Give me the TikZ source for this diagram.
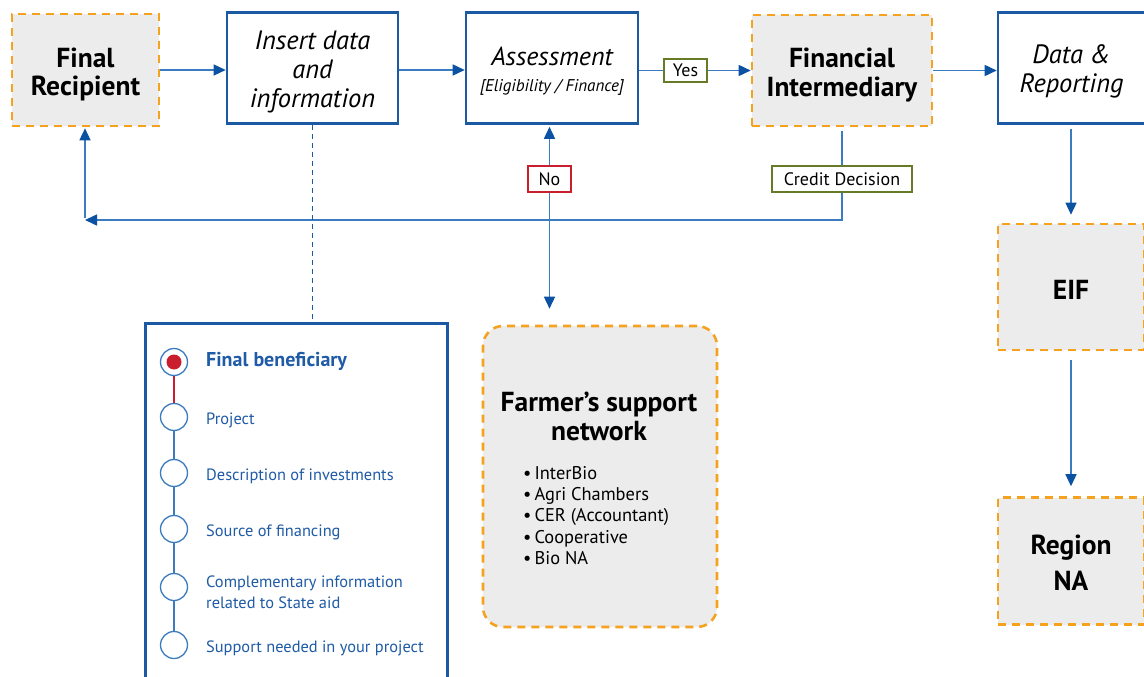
\documentclass[tikz,border=0pt]{standalone}
\usepackage{fontspec}
\setmainfont{PT Sans}
\usetikzlibrary{arrows.meta}
\definecolor{bord}{HTML}{1C59A5}
\definecolor{lnc}{HTML}{3B7BC0}
\definecolor{arrc}{HTML}{0B53A2}
\definecolor{orng}{HTML}{F5A21E}
\definecolor{grayf}{HTML}{ECECEC}
\definecolor{olive}{HTML}{667A27}
\definecolor{redc}{HTML}{C81E2E}
\definecolor{txtb}{HTML}{1F5BA6}
\tikzset{
  graybox/.style={draw=orng, fill=grayf, line width=2.6pt, dash pattern=on 8pt off 6pt, minimum width=146pt, inner sep=0pt},
  bluebox/.style={draw=bord, fill=white, line width=2.6pt, inner sep=0pt, minimum width=172pt, minimum height=111pt},
  lbl/.style={draw=#1, fill=white, line width=1.6pt, inner sep=0pt, font=\fontsize{18}{20}\selectfont},
  ln/.style={draw=lnc, line width=1.5pt},
  arr/.style={draw=lnc, line width=1.5pt, -{Triangle[length=12pt,width=11pt,color=arrc]}},
  circ/.style={circle, draw=lnc, line width=1.3pt, fill=white, minimum size=27pt, inner sep=0pt},
  item/.style={anchor=west, text=txtb, inner sep=0pt, align=left, font=\fontsize{16.4}{21}\selectfont},
  bigb/.style={align=center, inner sep=0pt, font=\bfseries\fontsize{27.5}{28.5}\selectfont},
  bigi/.style={align=center, inner sep=0pt, font=\itshape\fontsize{26.5}{29}\selectfont},
}
\begin{document}
\begin{tikzpicture}[x=1pt,y=-1pt]
\useasboundingbox (0,0) rectangle (1144,677);
\clip (0,0) rectangle (1144,677);
% top row
\node[graybox, minimum width=147pt, minimum height=112pt] (fr) at (85.5,70) {};
\node[bigb] (frt) at (85.5,74.5) {Final\\Recipient};
\node[bluebox, minimum width=171pt] (ins) at (312.5,68) {};
\node[bigi] (inst) at (312.5,72) {Insert data\\and\\information};
\node[bluebox] (ass) at (552,68) {};
\node[bigi, font=\itshape\fontsize{26}{29}\selectfont] (asst) at (552,56) {Assessment};
\node[font=\itshape\fontsize{17}{20}\selectfont, inner sep=0pt] (asss) at (552,87) {[Eligibility / Finance]};
\node[graybox, minimum width=180pt, minimum height=111pt] (fi) at (842,70.5) {};
\node[bigb] (fit) at (842,75) {Financial\\Intermediary};
\node[bluebox, minimum width=148pt] (data) at (1072,68) {};
\node[bigi] (datat) at (1071.5,71.5) {Data \&\\Reporting};
\node[graybox, minimum height=126pt] (eif) at (1071,287) {};
\node[bigb] (eift) at (1071,290) {EIF};
\node[graybox, minimum height=127pt] (reg) at (1071,561) {};
\node[bigb, font=\bfseries\fontsize{27.5}{36}\selectfont] (regt) at (1071,563) {Region\\NA};
% labels
\node[lbl=olive, minimum width=43pt, minimum height=23pt] (yes) at (685.5,70.5) {Yes};
\node[lbl=redc, minimum width=43pt, minimum height=26pt] (no) at (549.5,179) {No};
\node[lbl=olive, minimum width=140pt, minimum height=26pt] (cred) at (842,179) {Credit Decision};
% farmer box
\node[draw=orng, fill=grayf, line width=2.6pt, dash pattern=on 8pt off 6pt, rounded corners=20pt, minimum width=234pt, minimum height=301pt] (farm) at (600,476.5) {};
\node[bigb, font=\bfseries\fontsize{27.5}{29}\selectfont] (farmt) at (599,416) {Farmer’s support\\network};
\node[anchor=north west, inner sep=0pt, align=left, font=\fontsize{18.4}{21.3}\selectfont] (farml) at (523,466) {•\,InterBio\\•\,Agri Chambers\\•\,CER (Accountant)\\•\,Cooperative\\•\,Bio NA};
% panel
\node[draw=bord, fill=white, line width=3pt, minimum width=302pt, minimum height=380pt, inner sep=0pt] (panel) at (296,513) {};
\node[circ] (s1) at (174,362) {};
\node[circle, fill=redc, minimum size=15pt, inner sep=0pt] (d1) at (s1) {};
\node[circ] (s2) at (174,417) {};
\node[circ] (s3) at (174,473) {};
\node[circ] (s4) at (174,529) {};
\node[circ] (s5) at (174,587) {};
\node[circ] (s6) at (174,645) {};
\draw[draw=redc, line width=2.5pt] (s1.south) -- (s2.north);
\draw[ln, line width=1.2pt] (s2.south) -- (s3.north);
\draw[ln, line width=1.2pt] (s3.south) -- (s4.north);
\draw[ln, line width=1.2pt] (s4.south) -- (s5.north);
\draw[ln, line width=1.2pt] (s5.south) -- (s6.north);
\node[item, font=\bfseries\fontsize{20}{22}\selectfont] (t1) at (206,361) {Final beneficiary};
\node[item] (t2) at (206,420) {Project};
\node[item] (t3) at (206,476) {Description of investments};
\node[item] (t4) at (206,532) {Source of financing};
\node[item] (t5) at (206,592) {Complementary information\\related to State aid};
\node[item] (t6) at (206,648) {Support needed in your project};
% connectors
\draw[arr] (fr.east) -- (fr.east -| ins.west);
\draw[arr] (ins.east |- fr.east) -- (ass.west |- fr.east);
\draw[ln] (ass.east |- yes.west) -- (yes.west);
\draw[arr] (yes.east) -- (fi.west |- yes.east);
\draw[arr] (fi.east) -- (fi.east -| data.west);
\draw[arr, shorten <=4pt, shorten >=8pt] (data.south -| eif.north) -- (eif.north);
\draw[arr, shorten <=9pt, shorten >=10pt] (eif.south) -- (reg.north);
\coordinate (c1) at (842,220);
\coordinate (c2) at (85,220);
\draw[ln, shorten <=4pt] (fi.south) -- (cred.north);
\draw[arr] (cred.south) -- (c1) -- (c2);
\draw[arr, shorten <=2pt, shorten >=1pt] (c2) -- (c2 |- fr.south);
\draw[arr, shorten >=2pt] (no.north) -- (no.north |- ass.south);
\draw[arr, shorten >=16pt] (no.south) -- (no.south |- farm.north);
\draw[draw=bord, line width=1.5pt, dash pattern=on 5pt off 4pt] (ins.south) -- (ins.south |- panel.north);
\end{tikzpicture}
\end{document}
